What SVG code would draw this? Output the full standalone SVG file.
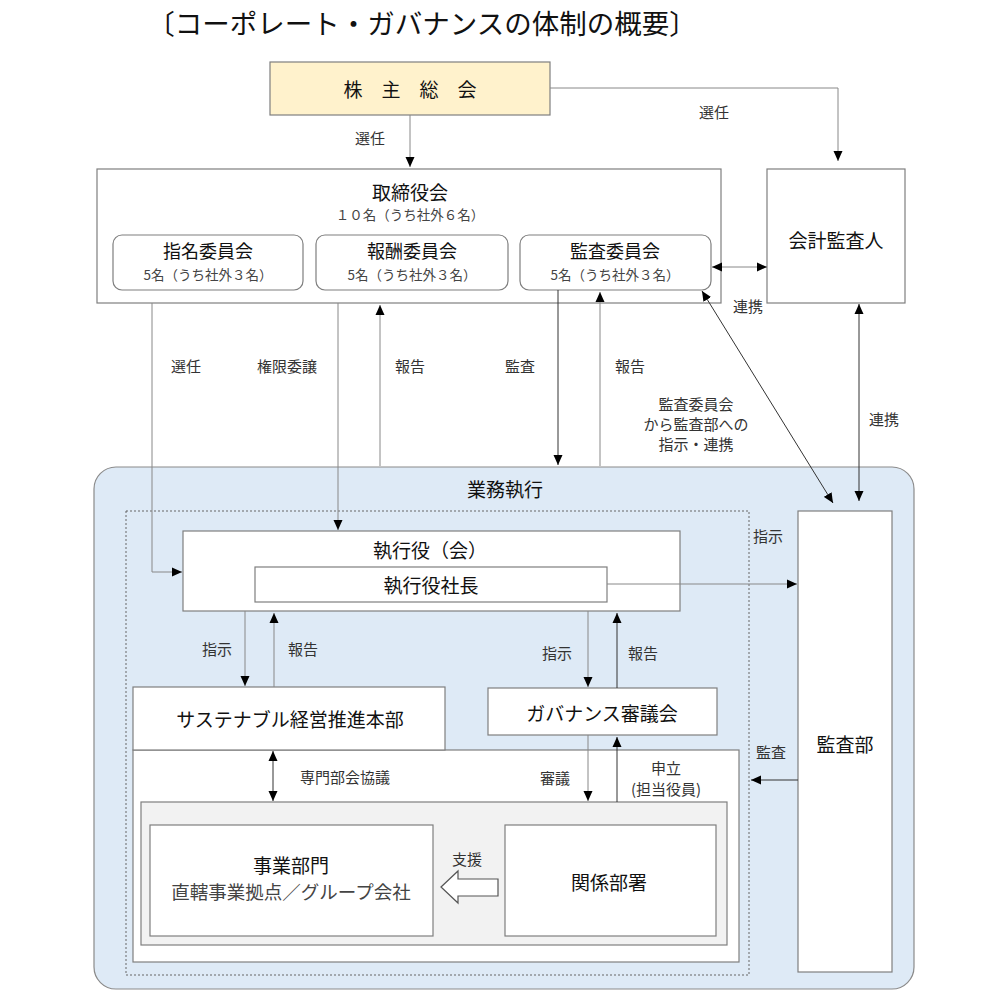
<svg xmlns="http://www.w3.org/2000/svg" width="1000" height="998" viewBox="0 0 1000 998">
<style>
text{font-family:"Noto Sans CJK JP","Noto Sans",sans-serif;fill:#111;text-anchor:middle;dominant-baseline:central}
.t{font-size:19px}
.ct{font-size:18px}
.s{font-size:13.5px;fill:#444}
.l{font-size:15px;fill:#333}
.box{fill:#fff;stroke:#7f7f7f;stroke-width:1.2}
.c{fill:none;stroke:#333;stroke-width:1}
.g{fill:none;stroke:#888;stroke-width:1}
</style>
<defs>
<marker id="ah" markerWidth="10" markerHeight="10" refX="10" refY="5" orient="auto-start-reverse" markerUnits="userSpaceOnUse"><path d="M0,0.5 L10,5 L0,9.5 z" fill="#000"/></marker>
</defs>
<rect width="1000" height="998" fill="#fff"/>
<text x="422" y="22" style="font-size:27.5px">〔コーポレート・ガバナンスの体制の概要〕</text>

<g id="gyomu">
<rect x="94" y="467" width="820" height="522" rx="22" fill="#DEEAF6" stroke="#8a8a8a" stroke-width="1.2"/>
<text class="t" x="505" y="488">業務執行</text>
<rect x="126" y="511" width="623" height="464" fill="none" stroke="#666" stroke-width="1" stroke-dasharray="2,2"/>
</g>

<g id="kabunushi">
<rect x="270" y="62" width="280" height="53" fill="#FFF2CC" stroke="#7f7f7f" stroke-width="1.2"/>
<text class="t" x="410" y="88">株　主　総　会</text>
</g>

<g id="torishimari">
<rect class="box" x="97" y="169" width="624" height="134"/>
<text class="t" x="410" y="191">取締役会</text>
<text class="s" x="410" y="214">１０名（うち社外６名）</text>
</g>
<g id="shimei">
<rect class="box" x="113" y="235" width="190" height="55" rx="9"/>
<text class="ct" x="208" y="250">指名委員会</text>
<text class="s" x="208" y="274">5名（うち社外３名）</text>
</g>
<g id="hoshu">
<rect class="box" x="316" y="235" width="192" height="55" rx="9"/>
<text class="ct" x="412" y="250">報酬委員会</text>
<text class="s" x="412" y="274">5名（うち社外３名）</text>
</g>
<g id="kansaiin">
<rect class="box" x="520" y="235" width="191" height="55" rx="9"/>
<text class="ct" x="615" y="250">監査委員会</text>
<text class="s" x="615" y="274">5名（うち社外３名）</text>
</g>

<g id="kaikei">
<rect class="box" x="767" y="169" width="138" height="134"/>
<text class="t" x="836" y="239">会計監査人</text>
</g>

<g id="kansabu">
<rect class="box" x="798" y="511" width="94" height="461"/>
<text class="t" x="845" y="743">監査部</text>
</g>

<g id="shikkoyaku">
<rect class="box" x="183" y="531" width="497" height="80"/>
<text class="t" x="430" y="549">執行役（会）</text>
</g>
<g id="shacho">
<rect class="box" x="255" y="567" width="352" height="35"/>
<text class="t" x="431" y="584">執行役社長</text>
</g>

<g id="bumon-area">
<rect class="box" x="133" y="750" width="606" height="212"/>
<rect x="141" y="802" width="586" height="143" fill="#F2F2F2" stroke="#7f7f7f" stroke-width="1.2"/>
</g>
<g id="sustainable">
<rect class="box" x="133" y="687" width="312" height="63"/>
<text class="t" x="290" y="718">サステナブル経営推進本部</text>
</g>
<g id="governance">
<rect class="box" x="488" y="688" width="229" height="47"/>
<text class="t" x="602" y="712">ガバナンス審議会</text>
</g>
<g id="jigyo">
<rect class="box" x="150" y="825" width="283" height="111"/>
<text class="t" x="291" y="864">事業部門</text>
<text x="291" y="891" style="font-size:18.5px;fill:#444">直轄事業拠点／グループ会社</text>
</g>
<g id="kankei">
<rect class="box" x="505" y="825" width="211" height="111"/>
<text class="t" x="609" y="881">関係部署</text>
</g>

<g id="connectors">
<path class="g" d="M410,115 V167" marker-end="url(#ah)"/>
<text class="l" x="370" y="137">選任</text>
<path class="g" d="M550,88 H838 V161" marker-end="url(#ah)"/>
<text class="l" x="714" y="111">選任</text>
<path class="g" d="M712,267 H767" marker-start="url(#ah)" marker-end="url(#ah)"/>
<text class="l" x="748" y="305">連携</text>
<path class="c" d="M859,304 V501" marker-start="url(#ah)" marker-end="url(#ah)"/>
<text class="l" x="884" y="418">連携</text>
<path class="c" d="M702,291 L833,503" marker-start="url(#ah)" marker-end="url(#ah)"/>
<text class="l" x="696" y="403">監査委員会</text>
<text class="l" x="696" y="423">から監査部への</text>
<text class="l" x="696" y="443">指示・連携</text>

<path class="g" d="M152,303 V572 H182" marker-end="url(#ah)"/>
<text class="l" x="186" y="365">選任</text>
<path class="g" d="M338,303 V530" marker-end="url(#ah)"/>
<text class="l" x="287" y="365">権限委譲</text>
<path class="g" d="M380,466 V305" marker-end="url(#ah)"/>
<text class="l" x="410" y="365">報告</text>
<path class="c" d="M558,290 V465" marker-end="url(#ah)"/>
<text class="l" x="520" y="365">監査</text>
<path class="g" d="M600,466 V292" marker-end="url(#ah)"/>
<text class="l" x="630" y="365">報告</text>

<path class="g" d="M607,584 H797" marker-end="url(#ah)"/>
<text class="l" x="768" y="535">指示</text>

<path class="g" d="M245,611 V686" marker-end="url(#ah)"/>
<text class="l" x="217" y="648">指示</text>
<path class="g" d="M274,687 V613" marker-end="url(#ah)"/>
<text class="l" x="303" y="648">報告</text>
<path class="g" d="M588,611 V687" marker-end="url(#ah)"/>
<text class="l" x="557" y="652">指示</text>
<path class="c" d="M617,688 V613" marker-end="url(#ah)"/>
<text class="l" x="643" y="652">報告</text>

<path class="c" d="M273,751 V801" marker-start="url(#ah)" marker-end="url(#ah)"/>
<text class="l" x="345" y="776">専門部会協議</text>
<path class="g" d="M588,735 V801" marker-end="url(#ah)"/>
<text class="l" x="555" y="777">審議</text>
<path class="c" d="M617,802 V737" marker-end="url(#ah)"/>
<text class="l" x="666" y="767">申立</text>
<text class="l" x="666" y="788">(担当役員)</text>

<path class="c" d="M798,780 H751" marker-end="url(#ah)"/>
<text class="l" x="771" y="751">監査</text>

<polygon points="441,887 458,871 458,879 498,879 498,896 458,896 458,903" fill="#fff" stroke="#555" stroke-width="1.2"/>
<text class="l" x="467" y="858">支援</text>
</g>
</svg>
